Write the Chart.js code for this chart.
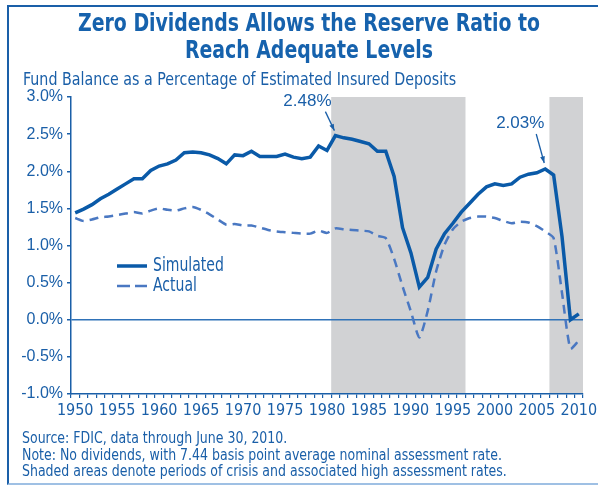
<!DOCTYPE html>
<html>
<head>
<meta charset="utf-8">
<script src="https://cdn.jsdelivr.net/npm/chart.js@4.4.1/dist/chart.umd.min.js"></script>
<style>
  html, body { margin: 0; padding: 0; background: #fff; overflow: hidden; }
  #wrap { position: relative; width: 598px; height: 485px; }
  #frame {
    position: absolute; left: 7px; top: 5px; width: 600px; height: 476px;
    border-left: 2.5px solid #1a5fa8; border-top: 2.5px solid #1a5fa8;
    border-bottom: 2px solid #9fc0e4;
  }
  canvas { position: absolute; left: 0; top: 0; }
  .txt { position: absolute; color: #1a5fa8; font-family: "Liberation Sans Narrow", "DejaVu Sans Condensed", sans-serif; white-space: nowrap; }
  #title { left: 9px; width: 600px; top: 10px; text-align: center; font-weight: bold; font-size: 24px; line-height: 27px; color: #1662ad; transform: scaleX(0.875); transform-origin: 300px 0; }
  #subtitle { left: 23px; top: 69px; font-size: 18px; line-height: 20px; transform: scaleX(0.88); transform-origin: 0 0; }
  #notes { left: 22px; top: 430px; font-size: 15.5px; line-height: 16.5px; transform: scaleX(0.9); transform-origin: 0 0; }
</style>
</head>
<body>
<div id="wrap">
  <div id="frame"></div>
  <canvas id="reserveChart" width="598" height="485"></canvas>
  <div class="txt" id="title">Zero Dividends Allows the Reserve Ratio to<br>Reach Adequate Levels</div>
  <div class="txt" id="subtitle">Fund Balance as a Percentage of Estimated Insured Deposits</div>
  <div class="txt" id="notes">Source: FDIC, data through June 30, 2010.<br>Note: No dividends, with 7.44 basis point average nominal assessment rate.<br>Shaded areas denote periods of crisis and associated high assessment rates.</div>
</div>
<script>
const years = [1950, 1951, 1952, 1953, 1954, 1955, 1956, 1957, 1958, 1959,
  1960, 1961, 1962, 1963, 1964, 1965, 1966, 1967, 1968, 1969,
  1970, 1971, 1972, 1973, 1974, 1975, 1976, 1977, 1978, 1979,
  1980, 1981, 1982, 1983, 1984, 1985, 1986, 1987, 1988, 1989,
  1990, 1991, 1992, 1993, 1994, 1995, 1996, 1997, 1998, 1999,
  2000, 2001, 2002, 2003, 2004, 2005, 2006, 2007, 2008, 2009,
  2010];

// reserve ratio, % of estimated insured deposits
const simulated = [1.44, 1.49, 1.55, 1.63, 1.69, 1.76, 1.83, 1.90, 1.90, 2.01,
  2.07, 2.10, 2.15, 2.25, 2.26, 2.25, 2.22, 2.17, 2.10, 2.22,
  2.21, 2.27, 2.20, 2.20, 2.20, 2.23, 2.19, 2.17, 2.19, 2.34,
  2.28, 2.48, 2.45, 2.43, 2.40, 2.37, 2.27, 2.27, 1.93, 1.24,
  0.90, 0.44, 0.57, 0.95, 1.16, 1.30, 1.45, 1.57, 1.69, 1.79,
  1.83, 1.81, 1.83, 1.92, 1.96, 1.98, 2.03, 1.95, 1.12, 0.00,
  0.08];

const actual = [1.37, 1.33, 1.35, 1.38, 1.39, 1.41, 1.43, 1.45, 1.43, 1.47,
  1.50, 1.48, 1.47, 1.50, 1.52, 1.48, 1.42, 1.35, 1.28, 1.29,
  1.27, 1.27, 1.24, 1.21, 1.19, 1.18, 1.17, 1.16, 1.16, 1.20,
  1.17, 1.23, 1.22, 1.21, 1.20, 1.19, 1.13, 1.10, 0.82, 0.45,
  0.11, -0.24, 0.12, 0.65, 1.01, 1.22, 1.32, 1.37, 1.39, 1.39,
  1.37, 1.33, 1.30, 1.32, 1.31, 1.26, 1.19, 1.10, 0.36, -0.39,
  -0.28];

// crisis periods (first year, last year)
const crisisPeriods = [[1981, 1996], [2007, 2010]];

// peak labels on the simulated line
const peakYears = [1981, 2006];
const peakLabels = ['2.48%', '2.03%'];

const BLUE = '#1a5fa8';
const NARROW = '"Liberation Sans Narrow", "DejaVu Sans Condensed", sans-serif';
const REGULAR = '"Liberation Sans", Arial, sans-serif';

const shadingPlugin = {
  id: 'shading',
  beforeDraw(chart) {
    const { ctx, chartArea, scales: { x } } = chart;
    const half = (x.getPixelForValue(1) - x.getPixelForValue(0)) / 2;
    ctx.save();
    ctx.fillStyle = '#d1d2d4';
    crisisPeriods.forEach(([a, b]) => {
      const x0 = x.getPixelForValue(years.indexOf(a)) - half;
      const x1 = x.getPixelForValue(years.indexOf(b)) + half;
      ctx.fillRect(x0, chartArea.top, x1 - x0, chartArea.bottom - chartArea.top);
    });
    ctx.restore();
  }
};

// label offsets relative to the point, in px
const calloutStyle = [
  { tx: -28, ty: -34, ax0: -10, ay0: -24, ax1: -1, ay1: -5 },
  { tx: -25, ty: -46, ax0: -9, ay0: -35, ax1: -1, ay1: -6 }
];

const calloutPlugin = {
  id: 'callouts',
  afterDatasetsDraw(chart) {
    const { ctx } = chart;
    const meta = chart.getDatasetMeta(0);
    ctx.save();
    ctx.fillStyle = BLUE;
    ctx.strokeStyle = BLUE;
    ctx.lineWidth = 1.3;
    peakYears.forEach((yr, i) => {
      const pt = meta.data[years.indexOf(yr)];
      const s = calloutStyle[i];
      ctx.font = '17px ' + REGULAR;
      ctx.textAlign = 'center';
      ctx.textBaseline = 'middle';
      ctx.fillText(peakLabels[i], pt.x + s.tx, pt.y + s.ty);

      const x0 = pt.x + s.ax0, y0 = pt.y + s.ay0;
      const x1 = pt.x + s.ax1, y1 = pt.y + s.ay1;
      ctx.beginPath();
      ctx.moveTo(x0, y0);
      ctx.lineTo(x1, y1);
      ctx.stroke();
      const ang = Math.atan2(y1 - y0, x1 - x0);
      ctx.beginPath();
      ctx.moveTo(x1, y1);
      ctx.lineTo(x1 - 7 * Math.cos(ang - 0.35), y1 - 7 * Math.sin(ang - 0.35));
      ctx.lineTo(x1 - 7 * Math.cos(ang + 0.35), y1 - 7 * Math.sin(ang + 0.35));
      ctx.closePath();
      ctx.fill();
    });
    ctx.restore();
  }
};

const legendPlugin = {
  id: 'lineLegend',
  afterDraw(chart) {
    const { ctx, chartArea } = chart;
    const lx = chartArea.left + 46;
    const ly = chartArea.top + 169;
    ctx.save();
    chart.data.datasets.forEach((ds, i) => {
      const y = ly + i * 20;
      ctx.strokeStyle = ds.borderColor;
      ctx.lineWidth = ds.borderWidth;
      ctx.setLineDash(i === 0 ? [] : [13, 5]);
      ctx.beginPath();
      ctx.moveTo(lx, y);
      ctx.lineTo(lx + 30, y);
      ctx.stroke();
      ctx.setLineDash([]);
      ctx.save();
      ctx.translate(lx + 36, y);
      ctx.scale(0.82, 1);
      ctx.fillStyle = BLUE;
      ctx.font = '19px ' + NARROW;
      ctx.textAlign = 'left';
      ctx.textBaseline = 'middle';
      ctx.fillText(ds.label, 0, 0);
      ctx.restore();
    });
    ctx.restore();
  }
};

const canvas = document.getElementById('reserveChart');

new Chart(canvas, {
  type: 'line',
  data: {
    labels: years,
    datasets: [
      {
        label: 'Simulated',
        data: simulated,
        borderColor: '#0a5aa8',
        borderWidth: 3.5,
        pointRadius: 0,
        borderJoinStyle: 'miter',
        tension: 0
      },
      {
        label: 'Actual',
        data: actual,
        borderColor: '#4a78c2',
        borderWidth: 2.5,
        borderDash: [9, 6],
        pointRadius: 0,
        tension: 0.2
      }
    ]
  },
  options: {
    responsive: false,
    animation: false,
    layout: { padding: { left: 0, right: 15, top: 97, bottom: 51 } },
    plugins: {
      legend: { display: false },
      tooltip: { enabled: false }
    },
    scales: {
      x: {
        type: 'category',
        offset: true,
        grid: { offset: true, drawOnChartArea: false, tickLength: 4, color: BLUE, lineWidth: 1.2 },
        border: { color: BLUE, width: 1.5 },
        ticks: {
          autoSkip: false,
          maxRotation: 0,
          padding: 3,
          color: BLUE,
          font: { family: NARROW, size: 16 },
          callback: (v, i) => (years[i] % 5 === 0 ? String(years[i]) : '')
        },
        afterFit: s => { s.height = 40; s.paddingLeft = 0; s.paddingRight = 0; }
      },
      y: {
        min: -1,
        max: 3,
        grid: {
          color: ctx => (ctx.tick && ctx.tick.value === 0 ? '#2f72b8' : 'rgba(0,0,0,0)'),
          tickColor: BLUE,
          lineWidth: 1.5,
          tickLength: 4
        },
        border: { color: BLUE, width: 1.5 },
        ticks: {
          stepSize: 0.5,
          padding: 4,
          color: BLUE,
          font: { family: REGULAR, size: 16 },
          callback: v => v.toFixed(1) + '%'
        },
        afterFit: s => { s.width = 71; s.paddingTop = 0; s.paddingBottom = 0; }
      }
    }
  },
  plugins: [shadingPlugin, calloutPlugin, legendPlugin]
});
</script>
</body>
</html>
